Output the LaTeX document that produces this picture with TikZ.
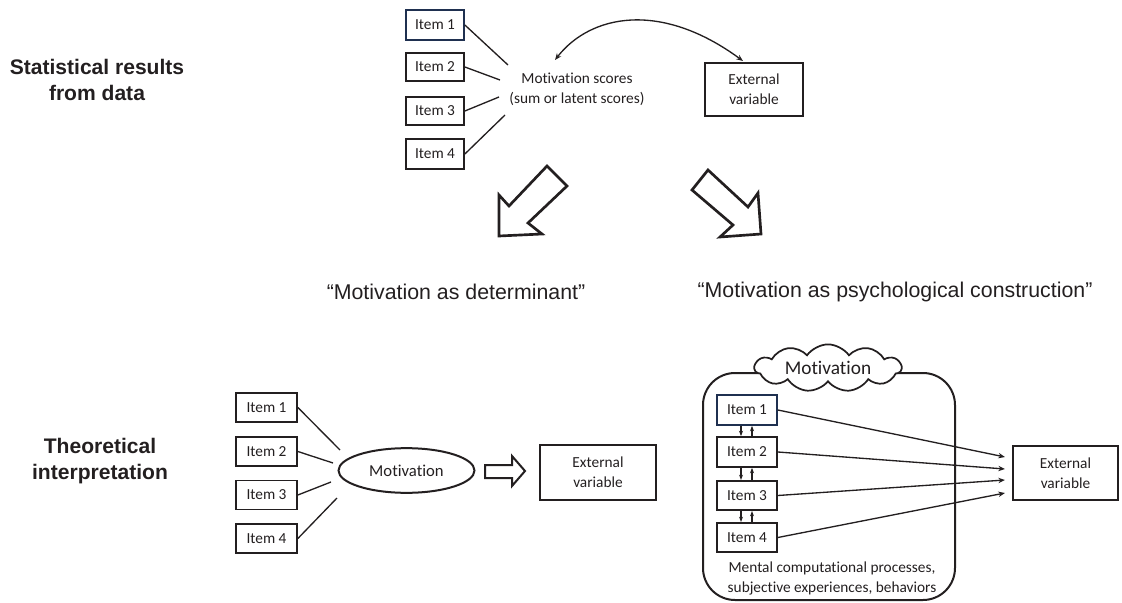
\documentclass[tikz,border=0pt]{standalone}
\usepackage{fontspec}
\setmainfont{Carlito}[Ligatures=NoCommon]
\newfontfamily\arialf{Liberation Sans}
\usetikzlibrary{shapes.symbols,shapes.geometric,arrows.meta,calc}
\definecolor{ink}{HTML}{231F20}
\definecolor{navy}{HTML}{1F3050}
\begin{document}
\begin{tikzpicture}[x=0.75pt,y=-0.75pt,
  every node/.style={text=ink},
  itembox/.style={draw=ink,line width=1.3pt,minimum width=44pt,minimum height=22pt,inner sep=0pt,font=\fontsize{11.5}{13}\selectfont},
  navybox/.style={itembox,draw=navy},
  extbox/.style={draw=ink,line width=1.5pt,inner sep=0pt,align=center,font=\fontsize{11.5}{15}\selectfont},
  conn/.style={draw=ink,line width=1pt},
  head/.style={font=\arialf\bfseries\fontsize{15.8}{19}\selectfont,align=center},
  quote/.style={font=\arialf\fontsize{16}{19}\selectfont},
  hollow/.style={draw=ink,line width=2pt,line join=miter,fill=white},
  tip/.style={-{Stealth[length=5pt,width=4pt]}},
  tiptwo/.style={{Stealth[length=5pt,width=4pt]}-{Stealth[length=5pt,width=4pt]}}
]
\useasboundingbox (0,0) rectangle (1122,603);

% headings
\node[head] (h1) at (97,80) {Statistical results\\from data};
\node[head] (h2) at (100,461) {Theoretical\\interpretation};

% ---------- top ----------
\node[navybox,minimum width=43.5pt,minimum height=22.5pt] (t1) at (435,25) {Item 1};
\node[itembox,minimum width=43.5pt,minimum height=21pt] (t2) at (435,67) {Item 2};
\node[itembox,minimum width=43.5pt,minimum height=21pt] (t3) at (435,111) {Item 3};
\node[itembox,minimum width=43.5pt,minimum height=22pt] (t4) at (435,154) {Item 4};
\node[align=center,font=\fontsize{11.5}{15}\selectfont] (ms) at (577,89) {Motivation scores\\(sum or latent scores)};
\node[extbox,minimum width=73.5pt,minimum height=39.75pt] (te) at (754,89.5) {External\\variable};

\coordinate (m1) at (508,65);
\coordinate (m2) at (500,80);
\coordinate (m3) at (499,97);
\coordinate (m4) at (505,115);
\draw[conn] (t1.east) -- (m1);
\draw[conn] (t2.east) -- (m2);
\draw[conn] (t3.east) -- (m3);
\draw[conn] (t4.east) -- (m4);

\coordinate (ca) at (555,60);
\coordinate (cb) at (743,61);
\draw[conn,tiptwo] (ca) .. controls (590,15) and (660,0) .. (cb);

% big hollow arrows
\draw[hollow] (499,236) -- (542,234) -- (528,223) -- (567,186) -- (547,166) -- (509,206) -- (499,195) -- cycle;
\draw[hollow] (761,234) -- (720,237) -- (733,225) -- (692,190) -- (708,170) -- (748,207) -- (758,193) -- cycle;

\node[quote] (q1) at (456,292) {“Motivation as determinant”};
\node[quote] (q2) at (895,292) {“Motivation as psychological construction”};

% ---------- bottom left ----------
\node[itembox,minimum width=45.75pt,minimum height=21.75pt] (l1) at (266.5,407.5) {Item 1};
\node[itembox,minimum width=45.75pt,minimum height=21.75pt] (l2) at (266.5,451.5) {Item 2};
\node[itembox,minimum width=45.75pt,minimum height=21.75pt] (l3) at (266.5,495) {Item 3};
\node[itembox,minimum width=45.75pt,minimum height=21.75pt] (l4) at (266.5,538.5) {Item 4};
\node[draw=ink,line width=1.5pt,ellipse,minimum width=102pt,minimum height=33.5pt,inner sep=0pt,font=\fontsize{12.5}{15}\selectfont] (lm) at (406.5,470.5) {Motivation};
\node[extbox,minimum width=87pt,minimum height=41.25pt] (le) at (598,472.5) {External\\variable};

\coordinate (e1) at (340,450);
\coordinate (e2) at (333,463);
\coordinate (e3) at (331,482);
\coordinate (e4) at (337,498);
\draw[conn] (l1.east) -- (e1);
\draw[conn] (l2.east) -- (e2);
\draw[conn] (l3.east) -- (e3);
\draw[conn] (l4.east) -- (e4);

\draw[hollow,line width=1.5pt] (485,465) -- (512,465) -- (512,456) -- (525,471) -- (512,486) -- (512,478) -- (485,478) -- cycle;

% ---------- bottom right ----------
\draw[draw=ink,line width=1.5pt,rounded corners=24pt] (703,373) rectangle (955,600);
\node[cloud,draw=ink,line width=1.3pt,fill=white,cloud puffs=11,cloud puff arc=110,aspect=4,minimum width=110pt,minimum height=29pt,inner sep=0pt,font=\fontsize{14.5}{17}\selectfont] (cl) at (828,368) {Motivation};

\node[navybox,minimum width=45pt,minimum height=22.5pt] (r1) at (747,410) {Item 1};
\node[itembox,minimum width=45pt,minimum height=22.5pt] (r2) at (747,452) {Item 2};
\node[itembox,minimum width=45pt,minimum height=22pt] (r3) at (747,495.5) {Item 3};
\node[itembox,minimum width=45pt,minimum height=22pt] (r4) at (747,537.5) {Item 4};
\node[extbox,minimum width=78.75pt,minimum height=40.5pt] (re) at (1065.5,473) {External\\variable};
\node[align=center,font=\fontsize{11.5}{15}\selectfont] (mt) at (832,578) {Mental computational processes,\\subjective experiences, behaviors};

\foreach \a/\b in {r1/r2,r2/r3,r3/r4}{
  \draw[conn,line width=0.9pt,-{Stealth[length=4pt,width=3pt]}] ([xshift=-4.5pt]\a.south) -- ([xshift=-4.5pt]\b.north);
  \draw[conn,line width=0.9pt,-{Stealth[length=4pt,width=3pt]}] ([xshift=3.75pt]\b.north) -- ([xshift=3.75pt]\a.south);
}

\coordinate (x1) at (1005,457);
\coordinate (x2) at (1005,469);
\coordinate (x3) at (1005,480);
\coordinate (x4) at (1005,493);
\draw[conn,tip] (r1.east) -- (x1);
\draw[conn,tip] (r2.east) -- (x2);
\draw[conn,tip] (r3.east) -- (x3);
\draw[conn,tip] (r4.east) -- (x4);
\end{tikzpicture}
\end{document}
